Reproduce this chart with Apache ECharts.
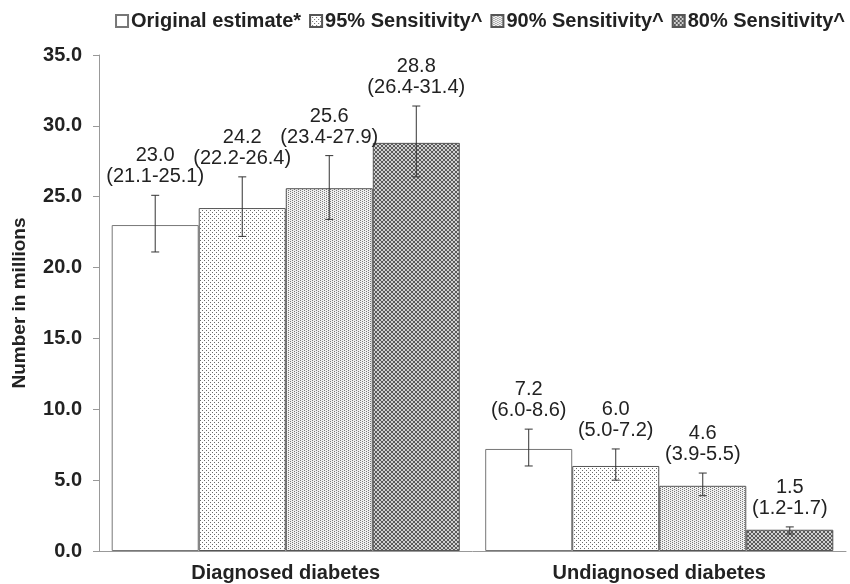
<!DOCTYPE html>
<html><head><meta charset="utf-8">
<script src="https://cdn.jsdelivr.net/npm/echarts@6/dist/echarts.min.js"></script>
<style>html,body{margin:0;padding:0;background:#fff}#c{width:850px;height:584px}</style>
</head><body><div id="c"></div>
<script>
const categories = ['Diagnosed diabetes', 'Undiagnosed diabetes'];
const seriesNames = ['Original estimate*', '95% Sensitivity^', '90% Sensitivity^', '80% Sensitivity^'];
const originalVals = [23.0, 7.2];
const originalLo = [21.1, 6.0];
const originalHi = [25.1, 8.6];
const s95Vals = [24.2, 6.0];
const s95Lo = [22.2, 5.0];
const s95Hi = [26.4, 7.2];
const s90Vals = [25.6, 4.6];
const s90Lo = [23.4, 3.9];
const s90Hi = [27.9, 5.5];
const s80Vals = [28.8, 1.5];
const s80Lo = [26.4, 1.2];
const s80Hi = [31.4, 1.7];
const yTicks = [0, 5, 10, 15, 20, 25, 30, 35];

const vals = [originalVals, s95Vals, s90Vals, s80Vals];
const los = [originalLo, s95Lo, s90Lo, s80Lo];
const his = [originalHi, s95Hi, s90Hi, s80Hi];

const FONT = '"Liberation Sans", Arial, sans-serif';

function makePattern(size, bg, fg, pts) {
  const c = document.createElement('canvas');
  c.width = size; c.height = size;
  const ctx = c.getContext('2d');
  ctx.fillStyle = bg; ctx.fillRect(0, 0, size, size);
  ctx.fillStyle = fg;
  pts.forEach(p => ctx.fillRect(p[0], p[1], 1, 1));
  return c;
}
const fills = [
  '#ffffff',
  {image: makePattern(4, '#ffffff', '#6a6a6a', [[0,0],[2,2]]), repeat: 'repeat'},
  {image: makePattern(4, '#f0f0f0', '#7a7a7a', [[0,0],[2,1],[0,2],[2,3]]), repeat: 'repeat'},
  {image: makePattern(4, '#d0d0d0', '#5a5a5a', [[0,0],[1,1],[2,2],[3,3],[3,0],[2,1],[1,2],[0,3]]), repeat: 'repeat'}
];
const borders = ['#777', '#555', '#555', '#555'];

const CAT_GAP = 0.068;
const series = [];
seriesNames.forEach((name, i) => {
  series.push({
    name: name, type: 'bar', data: vals[i],
    barGap: '0%', barCategoryGap: (CAT_GAP * 100) + '%',
    itemStyle: {color: fills[i], borderColor: borders[i], borderWidth: 1},
    emphasis: {disabled: true}, animation: false
  });
});
seriesNames.forEach((name, i) => {
  series.push({
    type: 'custom', name: name + '_err', animation: false, silent: true, z: 5,
    data: categories.map((c, k) => [k, vals[i][k], los[i][k], his[i][k]]),
    renderItem: function (params, api) {
      const k = api.value(0);
      const catW = api.size([1, 0])[0];
      const bw = catW * (1 - CAT_GAP) / 4;
      const dx = (i - 1.5) * bw;
      const pLo = api.coord([k, api.value(2)]);
      const pHi = api.coord([k, api.value(3)]);
      const x = pLo[0] + dx;
      const cap = 4;
      const st = {stroke: '#333', lineWidth: 1};
      const v = api.value(1).toFixed(1);
      const lo = api.value(2).toFixed(1);
      const hi = api.value(3).toFixed(1);
      return {type: 'group', children: [
        {type: 'line', shape: {x1: x, y1: pLo[1], x2: x, y2: pHi[1]}, style: st},
        {type: 'line', shape: {x1: x - cap, y1: pLo[1], x2: x + cap, y2: pLo[1]}, style: st},
        {type: 'line', shape: {x1: x - cap, y1: pHi[1], x2: x + cap, y2: pHi[1]}, style: st},
        {type: 'text', x: x, y: pHi[1] - 8, style: {
          text: v + '\n(' + lo + '-' + hi + ')', fill: '#222',
          font: '20px ' + FONT, lineHeight: 21,
          align: 'center', verticalAlign: 'bottom'
        }}
      ]};
    }
  });
});

const chart = echarts.init(document.getElementById('c'), null, {renderer: 'canvas'});
chart.setOption({
  animation: false,
  backgroundColor: '#fff',
  legend: {
    data: seriesNames, right: 0, top: 6, itemGap: 8, itemWidth: 12, itemHeight: 12,
    icon: 'rect',
    textStyle: {fontFamily: FONT, fontWeight: 'bold', fontSize: 20, color: '#222', padding: [0, 0, 0, -2]}
  },
  grid: {left: 99, right: 4, top: 55, bottom: 33, outerBoundsMode: 'none', containLabel: false},
  xAxis: {
    type: 'category', data: categories,
    axisLine: {lineStyle: {color: '#999'}},
    axisTick: {show: false},
    axisLabel: {fontFamily: FONT, fontWeight: 'bold', fontSize: 20, color: '#222', margin: 12}
  },
  yAxis: {
    type: 'value', min: 0, max: 35, interval: 5,
    name: 'Number in millions', nameLocation: 'middle', nameGap: 70,
    nameTextStyle: {fontFamily: FONT, fontWeight: 'bold', fontSize: 19, color: '#222'},
    axisLine: {show: true, lineStyle: {color: '#999'}},
    axisTick: {show: true, length: 6, lineStyle: {color: '#999'}},
    splitLine: {show: false},
    axisLabel: {fontFamily: FONT, fontWeight: 'bold', fontSize: 20, color: '#222', margin: 17,
      formatter: v => yTicks.includes(v) ? v.toFixed(1) : ''}
  },
  series: series
});
</script></body></html>
